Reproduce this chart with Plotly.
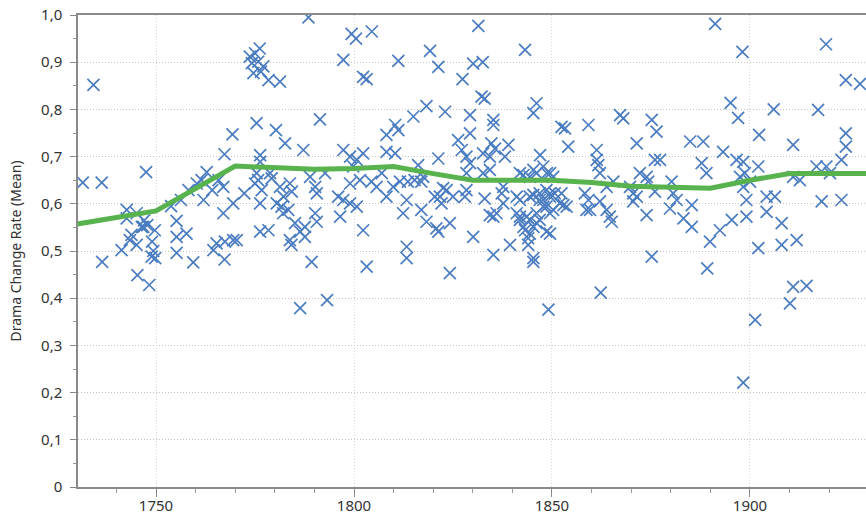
import plotly.graph_objects as go

# ---- data ----
years = [
    1731.5, 1736.3, 1734.2, 1736.4, 1741.3, 1742.6, 1743.4, 1745.1, 1745.1, 1745.3,
    1746.8, 1747.0, 1747.5, 1747.8, 1748.3, 1748.9, 1749.3, 1749.7, 1749.8, 1742.6,
    1743.8, 1746.4, 1749.0,
    1753.8, 1755.2, 1755.2, 1755.2, 1756.3, 1757.7, 1758.2, 1759.4, 1760.3, 1761.5,
    1762.0, 1762.8, 1764.2, 1764.5, 1765.3, 1767.0, 1767.0, 1767.3, 1767.4, 1767.3,
    1769.3, 1769.5, 1769.5, 1770.4, 1772.3, 1765.8,
    1773.7, 1775.0, 1776.2, 1775.8, 1774.2, 1777.1, 1774.6, 1778.4, 1781.3, 1776.5,
    1775.4, 1780.3, 1782.6, 1776.3, 1776.3, 1787.2, 1775.4, 1775.8, 1775.0, 1778.8,
    1779.2, 1783.8, 1776.7, 1776.3, 1781.3, 1782.2, 1780.5, 1781.7, 1783.4, 1785.1,
    1786.4, 1783.8, 1787.6, 1776.3, 1778.4, 1788.5, 1784.3, 1791.4, 1788.9, 1790.2,
    1790.6, 1792.7, 1787.6, 1790.2, 1790.6, 1784.2, 1789.3, 1786.4, 1793.2, 1782.1,
    1796.0, 1796.5, 1797.3, 1799.0, 1800.7, 1799.0, 1801.5, 1799.8, 1797.3, 1799.0,
    1800.7, 1802.3, 1802.3, 1803.2, 1797.3, 1799.4, 1800.5, 1804.5, 1802.3, 1803.2,
    1804.4, 1805.7, 1807.0, 1808.2, 1808.2, 1808.2, 1809.9, 1810.4, 1811.2, 1810.4,
    1811.2, 1811.6, 1812.4, 1813.3, 1813.3, 1813.3, 1813.6, 1815.0, 1815.3, 1816.2,
    1817.0, 1817.5, 1817.0, 1818.3, 1818.3, 1819.2, 1820.4, 1820.8, 1821.3, 1821.3,
    1821.3, 1822.5, 1823.0, 1824.2,
    1821.7, 1822.1, 1823.4, 1825.0, 1824.2, 1826.3, 1827.2, 1828.4, 1827.4, 1828.4,
    1828.0, 1828.4, 1829.3, 1829.3, 1829.3, 1830.1, 1830.1, 1831.4, 1832.5, 1832.2,
    1833.0, 1832.6, 1832.6, 1833.0, 1834.3, 1834.3, 1834.7, 1835.6, 1835.2, 1835.2,
    1834.3, 1835.2, 1836.0, 1835.2, 1837.3, 1837.7, 1837.7, 1838.1, 1839.0, 1839.4,
    1841.1, 1841.9, 1841.9, 1841.1, 1841.9, 1841.9, 1842.8, 1842.8, 1843.2, 1843.6,
    1843.2, 1844.4, 1844.4, 1844.4, 1844.4, 1844.0, 1844.0, 1845.3, 1845.3, 1845.3,
    1845.3, 1845.3, 1845.3, 1846.1, 1846.1, 1846.1, 1846.1, 1846.9, 1846.9, 1846.9,
    1847.0, 1847.8, 1847.8, 1847.8, 1848.6, 1848.6, 1848.6, 1848.7, 1849.1, 1849.5,
    1849.5, 1849.5, 1849.5, 1849.5, 1850.3, 1850.3, 1850.7, 1852.0, 1852.4, 1852.4,
    1852.9, 1853.3, 1853.7, 1854.1, 1858.3, 1858.7, 1859.2, 1859.2, 1859.6, 1861.3,
    1861.7, 1861.3, 1862.1, 1862.1, 1862.3, 1863.8, 1863.8, 1864.6, 1865.1, 1865.5,
    1867.2, 1868.0, 1870.5, 1870.5, 1871.4, 1871.4, 1872.2, 1873.9, 1873.9, 1874.3,
    1875.2, 1875.2, 1876.0, 1876.4, 1876.0,
    1869.7, 1877.3, 1880.2, 1880.6, 1881.5, 1879.8, 1883.2, 1884.9, 1885.3, 1885.3,
    1887.8, 1888.2, 1889.0, 1889.2, 1889.9, 1891.2, 1892.4, 1893.2, 1895.1, 1895.4,
    1896.6, 1897.0, 1897.5, 1898.1, 1898.3, 1898.3, 1898.3, 1898.7, 1899.1, 1899.1,
    1900.0, 1901.3, 1902.1, 1902.1, 1902.3, 1904.2, 1904.2, 1906.0, 1906.3, 1908.0,
    1908.0, 1910.1, 1910.9, 1910.9, 1910.9, 1911.8, 1912.6, 1914.3, 1916.8, 1917.2,
    1918.1, 1919.2, 1919.3, 1920.2, 1923.1, 1923.1, 1924.2, 1924.2, 1924.2, 1927.8,
]
change_rate = [
    0.645, 0.645, 0.852, 0.477, 0.502, 0.569, 0.523, 0.580, 0.513, 0.449,
    0.551, 0.565, 0.667, 0.555, 0.428, 0.488, 0.500, 0.544, 0.485, 0.587,
    0.534, 0.551, 0.520,
    0.595, 0.564, 0.530, 0.496, 0.608, 0.537, 0.629, 0.476, 0.643, 0.650,
    0.608, 0.667, 0.629, 0.502, 0.516, 0.636, 0.580, 0.705, 0.520, 0.482,
    0.747, 0.601, 0.523, 0.523, 0.622, 0.650,
    0.912, 0.919, 0.929, 0.901, 0.898, 0.891, 0.877, 0.862, 0.859, 0.880,
    0.771, 0.756, 0.728, 0.703, 0.689, 0.714, 0.665, 0.650, 0.643, 0.665,
    0.654, 0.643, 0.629, 0.601, 0.636, 0.615, 0.601, 0.594, 0.587, 0.559,
    0.541, 0.523, 0.530, 0.541, 0.544, 0.995, 0.626, 0.779, 0.657, 0.636,
    0.622, 0.665, 0.551, 0.580, 0.562, 0.513, 0.477, 0.379, 0.396, 0.580,
    0.615, 0.573, 0.608, 0.601, 0.594, 0.643, 0.650, 0.679, 0.714, 0.700,
    0.693, 0.707, 0.544, 0.467, 0.905, 0.960, 0.950, 0.965, 0.869, 0.864,
    0.647, 0.636, 0.665, 0.615, 0.746, 0.710, 0.636, 0.767, 0.756, 0.707,
    0.903, 0.647, 0.580, 0.608, 0.509, 0.485, 0.647, 0.785, 0.650, 0.682,
    0.647, 0.657, 0.587, 0.807, 0.562, 0.924, 0.615, 0.548, 0.890, 0.696,
    0.541, 0.633, 0.795, 0.453,
    0.615, 0.601, 0.629, 0.615, 0.559, 0.735, 0.714, 0.700, 0.864, 0.629,
    0.615, 0.665, 0.686, 0.749, 0.788, 0.897, 0.530, 0.977, 0.900, 0.827,
    0.823, 0.665, 0.707, 0.611, 0.672, 0.700, 0.728, 0.717, 0.778, 0.767,
    0.576, 0.573, 0.580, 0.492, 0.622, 0.601, 0.636, 0.700, 0.725, 0.513,
    0.615, 0.608, 0.665, 0.580, 0.566, 0.573, 0.551, 0.661, 0.926, 0.573,
    0.544, 0.657, 0.615, 0.537, 0.566, 0.527, 0.513, 0.672, 0.551, 0.792,
    0.619, 0.477, 0.485, 0.813, 0.665, 0.580, 0.559, 0.622, 0.608, 0.566,
    0.703, 0.608, 0.679, 0.594, 0.629, 0.594, 0.541, 0.665, 0.376, 0.615,
    0.580, 0.622, 0.537, 0.665, 0.587, 0.657, 0.622, 0.601, 0.622, 0.763,
    0.597, 0.760, 0.594, 0.721, 0.622, 0.587, 0.608, 0.767, 0.587, 0.714,
    0.682, 0.693, 0.665, 0.605, 0.412, 0.636, 0.587, 0.573, 0.562, 0.647,
    0.788, 0.781, 0.622, 0.605, 0.615, 0.728, 0.665, 0.657, 0.576, 0.647,
    0.488, 0.778, 0.693, 0.753, 0.626,
    0.636, 0.693, 0.647, 0.622, 0.608, 0.590, 0.569, 0.732, 0.597, 0.551,
    0.686, 0.732, 0.665, 0.463, 0.520, 0.981, 0.544, 0.710, 0.814, 0.566,
    0.693, 0.782, 0.657, 0.922, 0.689, 0.636, 0.221, 0.665, 0.608, 0.573,
    0.647, 0.354, 0.679, 0.506, 0.746, 0.615, 0.583, 0.800, 0.615, 0.559,
    0.513, 0.389, 0.424, 0.657, 0.725, 0.523, 0.650, 0.426, 0.679, 0.799,
    0.605, 0.938, 0.679, 0.665, 0.693, 0.608, 0.749, 0.721, 0.862, 0.854,
]

trend_years = [1730, 1750, 1770, 1780, 1790, 1800, 1810, 1820, 1830, 1840,
               1850, 1860, 1870, 1880, 1890, 1900, 1910, 1920, 1930]
trend_mean = [0.557, 0.585, 0.680, 0.676, 0.673, 0.675, 0.679, 0.664, 0.650, 0.650,
              0.650, 0.645, 0.637, 0.635, 0.633, 0.650, 0.664, 0.664, 0.664]

y_tick_vals = [0, 0.1, 0.2, 0.3, 0.4, 0.5, 0.6, 0.7, 0.8, 0.9, 1.0]
y_tick_text = ["0", "0,1", "0,2", "0,3", "0,4", "0,5", "0,6", "0,7", "0,8", "0,9", "1,0"]
x_tick_vals = [1750, 1800, 1850, 1900]
x_tick_text = ["1750", "1800", "1850", "1900"]

FONT = "Noto Sans"
BLUE = "#4a7cc0"
GREEN = "#58b34e"

fig = go.Figure()
fig.add_trace(go.Scatter(
    x=years, y=change_rate, mode="markers",
    marker=dict(symbol="x-thin", size=12, color=BLUE,
                line=dict(color=BLUE, width=1.7)),
    showlegend=False, hoverinfo="x+y",
))
fig.add_trace(go.Scatter(
    x=trend_years, y=trend_mean, mode="lines",
    line=dict(color=GREEN, width=5),
    showlegend=False,
))

fig.update_layout(
    width=866, height=516,
    margin=dict(l=78, r=0, t=15, b=29),
    paper_bgcolor="white", plot_bgcolor="white",
    font=dict(family=FONT, size=15, color="#333333"),
)
fig.update_xaxes(
    range=[1730.3, 1929.3],
    tickmode="array", tickvals=x_tick_vals, ticktext=x_tick_text,
    ticks="outside", ticklen=8, tickwidth=1, tickcolor="#888888",
    ticklabelstandoff=-4,
    minor=dict(tickmode="linear", tick0=1730, dtick=10, ticks="outside",
               ticklen=4, tickcolor="#999999", showgrid=False),
    showline=True, linecolor="#8a8a8a", linewidth=1.5, mirror=True,
    showgrid=True, gridcolor="#d8d8d8", griddash="1px,2px", gridwidth=1,
    zeroline=False, tickfont=dict(size=15, color="#333333"),
)
fig.update_yaxes(
    range=[0, 1.0],
    tickmode="array", tickvals=y_tick_vals, ticktext=y_tick_text,
    ticks="outside", ticklen=6, tickwidth=1, tickcolor="#888888",
    ticklabelstandoff=5,
    minor=dict(tickmode="linear", tick0=0, dtick=0.05, ticks="outside",
               ticklen=3, tickcolor="#999999", showgrid=False),
    showline=True, linecolor="#8a8a8a", linewidth=1.5,
    showgrid=True, gridcolor="#c4c4c4", griddash="1px,2px", gridwidth=1,
    zeroline=False, tickfont=dict(size=15, color="#333333"),
    title=dict(text="Drama Change Rate (Mean)", font=dict(size=14, color="#333333"),
               standoff=16),
)

fig.write_html(
    "out.html",
    config={"displayModeBar": False},
    post_script="document.body.style.margin='0';document.body.style.overflow='hidden';",
)
